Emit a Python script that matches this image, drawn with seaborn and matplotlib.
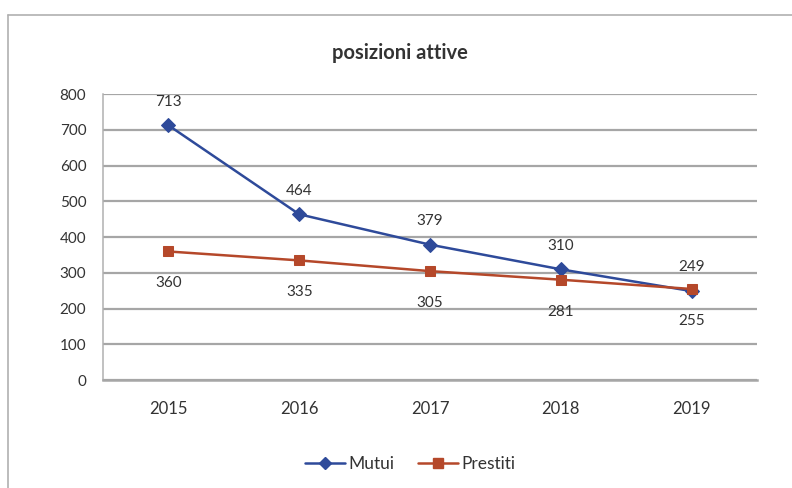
import matplotlib
matplotlib.use("Agg")
import matplotlib.pyplot as plt
from matplotlib.lines import Line2D
import seaborn as sns
import pandas as pd

years = ["2015", "2016", "2017", "2018", "2019"]
mutui = [713, 464, 379, 310, 249]
prestiti = [360, 335, 305, 281, 255]
series_names = ["Mutui", "Prestiti"]
yticks = [0, 100, 200, 300, 400, 500, 600, 700, 800]

sns.set_theme(style="white")
plt.rcParams['font.family'] = ['Lato', 'DejaVu Sans']

df = pd.DataFrame({
    "anno": years * 2,
    "valore": mutui + prestiti,
    "serie": [series_names[0]] * len(years) + [series_names[1]] * len(years),
})

blue = "#2e4a9a"
red = "#b5482a"
fig = plt.figure(figsize=(7.92, 4.88), dpi=100)
ax = fig.add_axes([0.130, 0.221, 0.826, 0.586])

sns.lineplot(data=df, x="anno", y="valore", hue="serie", style="serie",
             markers={"Mutui": "D", "Prestiti": "s"}, dashes=False,
             palette={"Mutui": blue, "Prestiti": red},
             markersize=7, linewidth=1.8, markeredgecolor=None,
             ax=ax, legend=False, sort=False)

ax.set_xlim(-0.5, 4.5)
ax.set_ylim(0, 800)
ax.set_yticks(yticks)
ax.set_yticklabels([str(t) for t in yticks])
ax.yaxis.grid(True, color="#a6a6a6", linewidth=1.6)
ax.set_axisbelow(True)
for s in ["top", "right"]:
    ax.spines[s].set_visible(False)
ax.spines["left"].set_color("#b0b0b0")
ax.spines["left"].set_linewidth(1.1)
ax.spines["bottom"].set_color("#a6a6a6")
ax.spines["bottom"].set_linewidth(1.8)
ax.set_xlabel("")
ax.set_ylabel("")
ax.tick_params(axis="y", labelsize=11, colors="#333333", length=0, pad=12)
ax.tick_params(axis="x", labelsize=12, colors="#333333", length=0, pad=15)

for i, v in enumerate(mutui):
    ax.annotate(str(v), (i, v), xytext=(0, 12), textcoords="offset points",
                ha="center", va="bottom", fontsize=11, color="#333333")
for i, v in enumerate(prestiti):
    ax.annotate(str(v), (i, v), xytext=(0, -18), textcoords="offset points",
                ha="center", va="top", fontsize=11, color="#333333")

fig.text(0.505, 0.891, "posizioni attive", ha="center", va="center",
         fontsize=14.5, fontweight="bold", color="#333333")

handles = [Line2D([], [], color=blue, marker="D", markersize=6, linewidth=1.8),
           Line2D([], [], color=red, marker="s", markersize=7, linewidth=1.8)]
fig.legend(handles, series_names, loc="center", bbox_to_anchor=(0.518, 0.050),
           ncol=2, frameon=False, fontsize=12.5, handlelength=2.3,
           handletextpad=0.2, columnspacing=1.4, labelcolor="#333333")

# outer chart frame (top and left edges)
fig.add_artist(Line2D([0.010, 1.0], [0.969, 0.969], transform=fig.transFigure,
                      color="#b0b0b0", linewidth=1.2))
fig.add_artist(Line2D([0.010, 0.010], [0.0, 0.969], transform=fig.transFigure,
                      color="#b0b0b0", linewidth=1.2))

fig.savefig("out.png", dpi=100)
